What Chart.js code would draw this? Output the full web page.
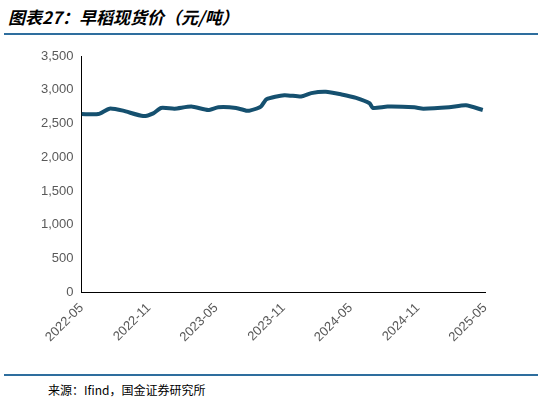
<!DOCTYPE html>
<html><head><meta charset="utf-8">
<script src="https://cdn.jsdelivr.net/npm/chart.js@4"></script>
<style>
body{margin:0;background:#fff;width:541px;height:404px;position:relative;font-family:"Noto Sans CJK SC",sans-serif}
#title{position:absolute;left:8px;top:4px;font-size:17px;font-weight:bold;font-style:italic;color:#000}
#rule1{position:absolute;left:4px;top:33px;width:534px;height:2px;background:#2e6e9e}
#rule2{position:absolute;left:4px;top:374px;width:534px;height:2px;background:#2e6e9e}
#src{position:absolute;left:48px;top:381px;font-size:12px;color:#000}
#box{position:absolute;left:0;top:44px;width:541px;height:330px}
</style></head><body>
<div id="title">图表27：早稻现货价（元/吨）</div>
<div id="rule1"></div>
<div id="box"><canvas id="c"></canvas></div>
<div id="rule2"></div>
<div id="src">来源：Ifind，国金证券研究所</div>
<script>
// months since 2022-05
const months = [0,1.5,2.5,3.7,5.5,6.4,7.1,8.3,9.8,11.3,12.2,13.8,14.7,15.0,16,16.5,18.1,19.6,20.5,21.8,23.2,24.5,25.7,26.0,27.3,29.7,30.5,32.8,34.3,35.8];
const prices = [2640,2640,2720,2690,2610,2650,2730,2720,2750,2700,2740,2730,2690,2690,2750,2860,2920,2900,2950,2970,2930,2880,2800,2730,2750,2740,2720,2740,2770,2700];
const tickLabels = ['2022-05','2022-11','2023-05','2023-11','2024-05','2024-11','2025-05'];

new Chart(document.getElementById('c'), {
  type: 'line',
  data: {
    datasets: [{
      data: months.map((m, i) => ({x: m, y: prices[i]})),
      borderColor: '#15506f', borderWidth: 4, pointRadius: 0, tension: 0.2
    }]
  },
  options: {
    responsive: true, maintainAspectRatio: false, animation: false,
    layout: { padding: { left: 38, right: 56, top: 12, bottom: 26 } },
    plugins: { legend: { display: false }, tooltip: { enabled: false } },
    scales: {
      x: {
        type: 'linear', min: 0, max: 36,
        grid: { display: false, drawTicks: true, tickColor: '#000', tickLength: 5 },
        border: { color: '#000' },
        afterBuildTicks: ax => { ax.ticks = tickLabels.map((_, i) => ({value: i * 6})); },
        ticks: { color: '#595959', font: { size: 13, family: 'Arial' }, minRotation: 45, maxRotation: 45,
          callback: v => tickLabels[v / 6] }
      },
      y: {
        min: 0, max: 3500,
        grid: { display: false, drawTicks: true, tickColor: '#000', tickLength: 5 },
        border: { color: '#000' },
        ticks: { stepSize: 500, color: '#595959', font: { size: 13, family: 'Arial' },
          callback: v => v.toLocaleString('en-US') }
      }
    }
  }
});
</script>
</body></html>
